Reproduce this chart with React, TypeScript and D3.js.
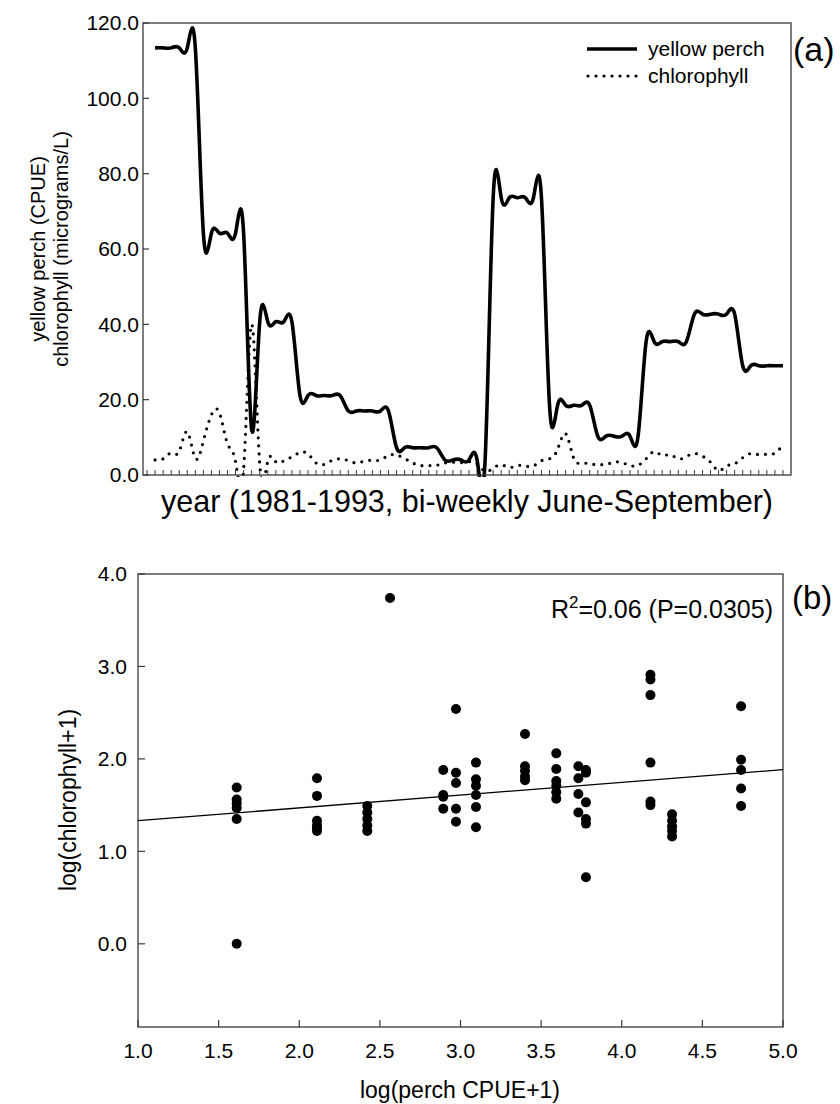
import * as React from 'react'
import { useEffect, useRef } from 'react'
import * as d3 from 'd3'

// panel (a): bi-weekly samples, June-September 1981-1993
const perchCpue = [
  113.4, 113.4, 113.4, 113.4, 113.4, 113.4,
  64.2, 64.2, 64.2, 64.2, 64.2, 64.2,
  12,
  40.7, 40.7, 40.7, 40.7, 40.7,
  21.1, 21.1, 21.1, 21.1, 21.1, 21.1,
  17, 17, 17, 17, 17, 17,
  7.25, 7.25, 7.25, 7.25, 7.25, 7.25,
  4, 4, 4, 4, 4, 4,
  73.6, 73.6, 73.6, 73.6, 73.6, 73.6, 73.6,
  18.5, 18.5, 18.5, 18.5, 18.5, 18.5,
  10.3, 10.3, 10.3, 10.3, 10.3, 10.3,
  35.4, 35.4, 35.4, 35.4, 35.4, 35.4,
  42.7, 42.7, 42.7, 42.7, 42.7, 42.7,
  29, 29, 29, 29, 29, 29,
]
const chlorophyll = [
  4.0, 4.3, 5.8, 6.3, 11.5, 4.4,
  9.0, 16.0, 16.5, 8.3, 3.5, 1.5,
  40.0,
  3.0, 3.6, 3.5, 3.8, 4.8,
  6.0, 5.6, 3.2, 2.8, 3.9, 4.3,
  3.8, 3.2, 3.7, 3.9, 4.0, 5.2,
  5.3, 4.4, 3.2, 2.5, 2.5, 2.6,
  3.2, 3.4, 3.3, 3.5, 3.0, 1.0,
  1.8, 2.7, 2.0, 2.5, 2.4, 2.4, 3.8,
  4.3, 6.8, 11.0, 4.5, 3.2, 2.9,
  2.8, 2.8, 3.4, 3.3, 2.5, 2.6,
  4.3, 6.2, 5.2, 5.4, 4.3, 4.9,
  5.7, 5.0, 3.4, 1.2, 2.4, 3.0,
  4.6, 5.7, 5.4, 5.5, 5.8, 8.0,
]
const cpueTicks = [0, 20, 40, 60, 80, 100, 120]

// panel (b): log(perch CPUE+1) vs log(chlorophyll+1)
const logPerch = [
  1.612, 1.612, 1.612, 1.612, 1.612, 1.612,
  2.110, 2.110, 2.110, 2.110, 2.110, 2.110,
  2.422, 2.422, 2.422, 2.422, 2.422,
  2.563,
  2.893, 2.893, 2.893, 2.893,
  2.972, 2.972, 2.972, 2.972, 2.972,
  3.096, 3.096, 3.096, 3.096, 3.096, 3.096,
  3.400, 3.400, 3.400, 3.400, 3.400,
  3.594, 3.594, 3.594, 3.594, 3.594, 3.594,
  3.731, 3.731, 3.731, 3.731,
  3.778, 3.778, 3.778, 3.778, 3.778, 3.778,
  4.178, 4.178, 4.178, 4.178, 4.178, 4.178,
  4.312, 4.312, 4.312, 4.312, 4.312,
  4.740, 4.740, 4.740, 4.740, 4.740,
]
const logChl = [
  1.69, 1.56, 1.52, 1.47, 1.35, 0.00,
  1.79, 1.60, 1.33, 1.28, 1.25, 1.22,
  1.49, 1.42, 1.35, 1.28, 1.22,
  3.74,
  1.88, 1.61, 1.59, 1.46,
  2.54, 1.85, 1.74, 1.46, 1.32,
  1.96, 1.78, 1.71, 1.61, 1.48, 1.26,
  2.27, 1.92, 1.87, 1.81, 1.77,
  2.06, 1.89, 1.76, 1.71, 1.64, 1.57,
  1.92, 1.79, 1.62, 1.42,
  1.88, 1.85, 1.53, 1.35, 1.30, 0.72,
  2.91, 2.86, 2.69, 1.96, 1.54, 1.50,
  1.40, 1.33, 1.27, 1.22, 1.16,
  2.57, 1.99, 1.88, 1.68, 1.49,
]
const fitIntercept = 1.194
const fitSlope = 0.138
const logXTicks = [1.0, 1.5, 2.0, 2.5, 3.0, 3.5, 4.0, 4.5, 5.0]
const logYTicks = [0, 1, 2, 3, 4]

const FONT = '"Liberation Sans", Arial, Helvetica, sans-serif'
const FRAME = '#3a3a3a'

const App = () => {
  const svgRef = useRef<SVGSVGElement | null>(null)

  useEffect(() => {
    const svg = d3.select(svgRef.current)
    svg.selectAll('*').remove()
    const f1 = d3.format('.1f')

    // ---------- panel (a)
    const xa = d3.scaleLinear().domain([-1.5, 79]).range([143, 791])
    const ya = d3.scaleLinear().domain([0, 120]).range([475, 23])
    const ga = svg.append('g')

    ga.append('clipPath').attr('id', 'clipA')
      .append('rect').attr('x', 143).attr('y', 23).attr('width', 648).attr('height', 454)

    // minor ticks, one per sample
    ga.selectAll('line.xt').data(d3.range(-1, 79)).enter().append('line')
      .attr('x1', d => xa(d)).attr('x2', d => xa(d))
      .attr('y1', 475).attr('y2', 470)
      .attr('stroke', FRAME).attr('stroke-width', 1)

    ga.selectAll('line.yt').data(cpueTicks).enter().append('line')
      .attr('x1', 143).attr('x2', 149)
      .attr('y1', d => ya(d)).attr('y2', d => ya(d))
      .attr('stroke', FRAME).attr('stroke-width', 1.2)
    ga.selectAll('text.yl').data(cpueTicks).enter().append('text')
      .attr('x', 139).attr('y', d => ya(d)).attr('dy', '0.35em')
      .attr('text-anchor', 'end').attr('font-size', 21).attr('font-family', FONT)
      .text(d => f1(d))

    const idx = perchCpue.map((_, i) => i)
    const line = d3.line<number>().x(i => xa(i)).curve(d3.curveNatural)

    ga.append('path')
      .attr('d', line.y(i => ya(chlorophyll[i]))(idx))
      .attr('clip-path', 'url(#clipA)')
      .attr('fill', 'none').attr('stroke', '#000').attr('stroke-width', 3.2)
      .attr('stroke-linecap', 'round').attr('stroke-dasharray', '0 8')
    ga.append('path')
      .attr('d', line.y(i => ya(perchCpue[i]))(idx))
      .attr('clip-path', 'url(#clipA)')
      .attr('fill', 'none').attr('stroke', '#000').attr('stroke-width', 3.6)
      .attr('stroke-linejoin', 'round')

    ga.append('rect').attr('x', 143).attr('y', 23).attr('width', 648).attr('height', 452)
      .attr('fill', 'none').attr('stroke', FRAME).attr('stroke-width', 1.3)

    // legend
    ga.append('line').attr('x1', 587).attr('x2', 637).attr('y1', 49).attr('y2', 49)
      .attr('stroke', '#000').attr('stroke-width', 3.6)
    ga.append('line').attr('x1', 588).attr('x2', 637).attr('y1', 76).attr('y2', 76)
      .attr('stroke', '#000').attr('stroke-width', 3.2)
      .attr('stroke-linecap', 'round').attr('stroke-dasharray', '0 8')
    ga.append('text').attr('x', 648).attr('y', 56).attr('font-size', 21).attr('font-family', FONT).text('yellow perch')
    ga.append('text').attr('x', 648).attr('y', 83).attr('font-size', 21).attr('font-family', FONT).text('chlorophyll')

    ga.append('text').attr('x', 793).attr('y', 61).attr('font-size', 34).attr('font-family', FONT).text('(a)')

    ga.append('text').attr('transform', 'translate(38,249) rotate(-90)')
      .attr('text-anchor', 'middle').attr('dy', '0.35em')
      .attr('font-size', 20).attr('font-family', FONT).text('yellow perch (CPUE)')
    ga.append('text').attr('transform', 'translate(61,249) rotate(-90)')
      .attr('text-anchor', 'middle').attr('dy', '0.35em')
      .attr('font-size', 20).attr('font-family', FONT).text('chlorophyll (micrograms/L)')

    ga.append('text').attr('x', 467).attr('y', 512).attr('text-anchor', 'middle')
      .attr('font-size', 30.5).attr('font-family', FONT)
      .text('year (1981-1993, bi-weekly June-September)')

    // ---------- panel (b)
    const xb = d3.scaleLinear().domain([1, 5]).range([138, 783])
    const yb = d3.scaleLinear().domain([-0.9, 4]).range([1027, 574])
    const gb = svg.append('g')

    gb.append('rect').attr('x', 138).attr('y', 574).attr('width', 645).attr('height', 453)
      .attr('fill', 'none').attr('stroke', FRAME).attr('stroke-width', 1.3)

    gb.selectAll('line.xt').data(logXTicks).enter().append('line')
      .attr('x1', d => xb(d)).attr('x2', d => xb(d)).attr('y1', 1027).attr('y2', 1020)
      .attr('stroke', FRAME).attr('stroke-width', 1.2)
    gb.selectAll('text.xl').data(logXTicks).enter().append('text')
      .attr('x', d => xb(d)).attr('y', 1058).attr('text-anchor', 'middle')
      .attr('font-size', 21).attr('font-family', FONT).text(d => f1(d))

    gb.selectAll('line.yt').data(logYTicks).enter().append('line')
      .attr('x1', 138).attr('x2', 145).attr('y1', d => yb(d)).attr('y2', d => yb(d))
      .attr('stroke', FRAME).attr('stroke-width', 1.2)
    gb.selectAll('text.yl').data(logYTicks).enter().append('text')
      .attr('x', 127).attr('y', d => yb(d)).attr('dy', '0.35em').attr('text-anchor', 'end')
      .attr('font-size', 21).attr('font-family', FONT).text(d => f1(d))

    const [x0, x1] = xb.domain()
    gb.append('line')
      .attr('x1', xb(x0)).attr('y1', yb(fitIntercept + fitSlope * x0))
      .attr('x2', xb(x1)).attr('y2', yb(fitIntercept + fitSlope * x1))
      .attr('stroke', '#000').attr('stroke-width', 1.3)

    gb.selectAll('circle').data(logPerch).enter().append('circle')
      .attr('cx', d => xb(d)).attr('cy', (_, i) => yb(logChl[i])).attr('r', 5)
      .attr('fill', '#000')

    const r2 = gb.append('text').attr('x', 773).attr('y', 618).attr('text-anchor', 'end')
      .attr('font-size', 25).attr('font-family', FONT)
    r2.append('tspan').text('R')
    r2.append('tspan').attr('dy', -10).attr('font-size', 17).text('2')
    r2.append('tspan').attr('dy', 10).text('=0.06 (P=0.0305)')

    gb.append('text').attr('x', 792).attr('y', 609).attr('font-size', 33).attr('font-family', FONT).text('(b)')

    gb.append('text').attr('x', 460).attr('y', 1098).attr('text-anchor', 'middle')
      .attr('font-size', 23).attr('font-family', FONT).text('log(perch CPUE+1)')
    gb.append('text').attr('transform', 'translate(68,800) rotate(-90)')
      .attr('text-anchor', 'middle').attr('dy', '0.35em')
      .attr('font-size', 23).attr('font-family', FONT).text('log(chlorophyll+1)')
  }, [])

  return (
    <svg ref={svgRef} width={840} height={1104}
      style={{ position: 'absolute', left: 0, top: 0, background: '#fff' }} />
  )
}

export default App
